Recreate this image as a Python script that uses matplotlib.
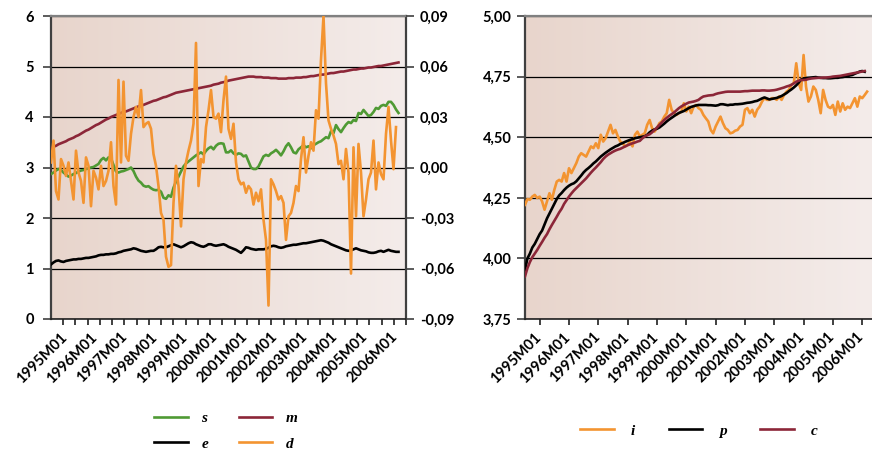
import numpy as np
import matplotlib
matplotlib.use("Agg")
import matplotlib.pyplot as plt
from matplotlib.colors import LinearSegmentedColormap
from matplotlib.ticker import FixedLocator
import matplotlib.transforms as mtransforms

# ---------------- data ----------------
year_labels = ["1995M01", "1996M01", "1997M01", "1998M01", "1999M01", "2000M01",
               "2001M01", "2002M01", "2003M01", "2004M01", "2005M01", "2006M01"]

s_vals = [2.87, 2.90, 2.94, 2.97, 2.95, 2.90, 2.86, 2.82, 2.84, 2.87, 2.89, 2.92, 2.94, 2.95, 2.97,
          2.98, 3.00, 3.01, 3.04, 3.07, 3.15, 3.19, 3.14, 3.20, 3.18, 3.05, 2.92, 2.90, 2.92, 2.93,
          2.95, 2.97, 3.00, 2.93, 2.82, 2.74, 2.70, 2.64, 2.62, 2.63, 2.59, 2.56, 2.55, 2.56, 2.52,
          2.40, 2.38, 2.45, 2.42, 2.60, 2.72, 2.82, 2.92, 3.02, 3.08, 3.12, 3.16, 3.20, 3.24, 3.27,
          3.30, 3.26, 3.33, 3.38, 3.41, 3.36, 3.43, 3.47, 3.48, 3.47, 3.30, 3.30, 3.34, 3.28, 3.25,
          3.28, 3.27, 3.22, 3.24, 3.12, 3.00, 2.97, 2.97, 3.02, 3.12, 3.22, 3.25, 3.23, 3.28, 3.31,
          3.35, 3.30, 3.24, 3.32, 3.42, 3.48, 3.40, 3.30, 3.28, 3.36, 3.40, 3.44, 3.40, 3.42, 3.38,
          3.44, 3.47, 3.50, 3.52, 3.56, 3.60, 3.58, 3.72, 3.68, 3.84, 3.76, 3.70, 3.78, 3.85, 3.90,
          3.88, 3.94, 3.92, 4.08, 4.06, 4.14, 4.08, 4.02, 4.04, 4.10, 4.18, 4.16, 4.22, 4.24, 4.22,
          4.30, 4.30, 4.24, 4.15, 4.08]

m_vals = [3.38, 3.41, 3.43, 3.46, 3.48, 3.50, 3.52, 3.55, 3.57, 3.59, 3.62, 3.64,
          3.67, 3.70, 3.73, 3.75, 3.78, 3.81, 3.84, 3.86, 3.89, 3.92, 3.95, 3.97, 4.00,
          4.02, 4.04, 4.06, 4.08, 4.10, 4.11, 4.13, 4.15, 4.17, 4.19, 4.21, 4.22, 4.24,
          4.26, 4.28, 4.30, 4.32, 4.33, 4.35, 4.37, 4.39, 4.40, 4.42, 4.44, 4.46, 4.48,
          4.49, 4.50, 4.51, 4.52, 4.53, 4.54, 4.55, 4.56, 4.57,
          4.58, 4.59, 4.60, 4.61, 4.62, 4.64, 4.65,
          4.66, 4.68, 4.69, 4.70, 4.72, 4.73,
          4.74, 4.75, 4.76, 4.77, 4.78, 4.79, 4.80,
          4.80, 4.80, 4.79, 4.79, 4.79, 4.78, 4.78,
          4.78, 4.77, 4.77, 4.77, 4.76, 4.76, 4.76, 4.76,
          4.77, 4.77, 4.77, 4.78, 4.78, 4.78, 4.79, 4.79, 4.80, 4.81, 4.81, 4.82, 4.83,
          4.84, 4.84, 4.85, 4.86, 4.87, 4.87, 4.88, 4.89, 4.90, 4.90, 4.91, 4.92, 4.93,
          4.94, 4.94, 4.95, 4.96, 4.96, 4.97, 4.98, 4.98, 4.99, 5.00, 5.01, 5.01, 5.02, 5.03,
          5.04, 5.05, 5.06, 5.07, 5.08]

e_vals = [1.08, 1.12, 1.15, 1.16, 1.14, 1.13, 1.15, 1.16, 1.17, 1.18,
          1.18, 1.19, 1.19, 1.20, 1.21, 1.21, 1.22, 1.23, 1.24, 1.26,
          1.27, 1.27, 1.28, 1.28, 1.29, 1.29, 1.30, 1.32, 1.33, 1.35,
          1.36, 1.37, 1.38, 1.40, 1.39, 1.37, 1.35, 1.34, 1.33, 1.34,
          1.35, 1.35, 1.38, 1.42, 1.43, 1.42, 1.42, 1.44, 1.46, 1.48,
          1.46, 1.44, 1.42, 1.44, 1.47, 1.50, 1.52, 1.51, 1.48, 1.46,
          1.44, 1.43, 1.45, 1.48, 1.48, 1.46, 1.45, 1.46, 1.47, 1.48,
          1.46, 1.43, 1.41, 1.39, 1.37, 1.34, 1.31, 1.36, 1.42, 1.41,
          1.39, 1.38, 1.37, 1.38, 1.38, 1.38, 1.39, 1.41, 1.44, 1.45,
          1.44, 1.42, 1.41, 1.42, 1.44, 1.45, 1.46, 1.47, 1.47, 1.48,
          1.49, 1.50, 1.50, 1.51, 1.52, 1.53, 1.54, 1.55, 1.56, 1.55,
          1.53, 1.51, 1.48, 1.46, 1.44, 1.42, 1.40, 1.38, 1.36, 1.35,
          1.36, 1.38, 1.40, 1.38, 1.36, 1.35, 1.34, 1.32, 1.31, 1.31,
          1.32, 1.34, 1.35, 1.33, 1.35, 1.37, 1.35, 1.34, 1.33, 1.33]

d_vals = [0.003, 0.016, -0.014, -0.019, 0.005, 0.001, -0.005, 0.003, -0.008, -0.019,
          0.010, -0.003, -0.008, -0.021, 0.006, 0.001, -0.023, -0.002, -0.006, -0.013,
          0.001, -0.011, -0.008, -0.002, 0.015, -0.011, -0.022, 0.052, 0.003, 0.051,
          0.007, 0.004, 0.020, 0.030, 0.036, 0.030, 0.046, 0.024, 0.026, 0.027,
          0.023, 0.008, 0.001, -0.011, -0.027, -0.031, -0.053, -0.059, -0.058, -0.021,
          0.001, -0.011, -0.035, -0.007, 0.003, 0.010, 0.016, 0.026, 0.074, -0.011,
          0.005, 0.003, 0.024, 0.034, 0.046, 0.030, 0.029, 0.032, 0.021, 0.040,
          0.054, 0.023, 0.017, 0.026, 0.003, -0.007, -0.010, -0.009, -0.015, -0.011,
          -0.013, -0.022, -0.015, -0.020, -0.013, -0.031, -0.043, -0.082, -0.007, -0.010,
          -0.014, -0.019, -0.017, -0.021, -0.043, -0.029, -0.027, -0.021, -0.011, -0.014,
          0.005, 0.018, -0.003, 0.007, 0.015, 0.010, 0.034, 0.029, 0.064, 0.090,
          0.050, 0.028, 0.023, 0.019, 0.014, 0.002, 0.004, -0.007, 0.011, -0.003,
          -0.063, 0.012, -0.029, 0.014, -0.003, -0.029, -0.019, -0.007, -0.003, 0.016,
          -0.013, 0.003, -0.004, -0.007, 0.020, 0.036, 0.016, -0.001, 0.024]

i_vals = [4.221, 4.245, 4.242, 4.255, 4.262, 4.249, 4.255, 4.235, 4.201, 4.235,
          4.269, 4.242, 4.283, 4.317, 4.324, 4.317, 4.352, 4.317, 4.372, 4.352,
          4.372, 4.393, 4.420, 4.434, 4.427, 4.420, 4.441, 4.462, 4.455, 4.475,
          4.455, 4.510, 4.482, 4.496, 4.523, 4.551, 4.516, 4.530, 4.503, 4.482,
          4.475, 4.462, 4.468, 4.482, 4.462, 4.510, 4.523, 4.503, 4.510, 4.516,
          4.551, 4.571, 4.537, 4.523, 4.537, 4.558, 4.565, 4.585, 4.599, 4.654,
          4.613, 4.599, 4.592, 4.599, 4.606, 4.640, 4.606, 4.626, 4.599, 4.626,
          4.633, 4.620, 4.613, 4.592, 4.578, 4.565, 4.530, 4.516, 4.544, 4.565,
          4.585, 4.558, 4.537, 4.530, 4.516, 4.519, 4.527, 4.530, 4.544, 4.551,
          4.613, 4.620, 4.599, 4.613, 4.585, 4.613, 4.626, 4.647, 4.661, 4.654,
          4.654, 4.661, 4.661, 4.654, 4.668, 4.654, 4.674, 4.688, 4.695, 4.716,
          4.723, 4.805, 4.723, 4.695, 4.839, 4.709, 4.647, 4.668, 4.709, 4.695,
          4.654, 4.599, 4.695, 4.654, 4.626, 4.620, 4.633, 4.592, 4.647, 4.606,
          4.640, 4.613, 4.626, 4.620, 4.640, 4.661, 4.626, 4.668, 4.661, 4.674,
          4.688]

p_vals = [3.953, 4.000, 4.020, 4.045, 4.060, 4.080, 4.100, 4.115, 4.140, 4.165,
          4.185, 4.205, 4.225, 4.245, 4.260, 4.270, 4.282, 4.292, 4.300, 4.306,
          4.310, 4.318, 4.330, 4.342, 4.355, 4.365, 4.373, 4.382, 4.392, 4.400,
          4.410, 4.420, 4.428, 4.436, 4.443, 4.450, 4.456, 4.462, 4.466, 4.472,
          4.476, 4.481, 4.485, 4.489, 4.492, 4.496, 4.498, 4.500, 4.502, 4.504,
          4.510, 4.520, 4.527, 4.532, 4.535, 4.540, 4.548, 4.556, 4.565, 4.573,
          4.580, 4.587, 4.594, 4.600, 4.604, 4.608, 4.614, 4.620, 4.625, 4.628,
          4.631, 4.633, 4.633, 4.633, 4.633, 4.632, 4.632, 4.631, 4.630, 4.632,
          4.636, 4.636, 4.634, 4.632, 4.634, 4.634, 4.636, 4.636, 4.637, 4.638,
          4.640, 4.642, 4.643, 4.645, 4.648, 4.650, 4.655, 4.660, 4.664, 4.660,
          4.656, 4.658, 4.660, 4.662, 4.666, 4.670, 4.676, 4.682, 4.690, 4.697,
          4.705, 4.714, 4.725, 4.738, 4.742, 4.744, 4.745, 4.746, 4.747, 4.748,
          4.746, 4.745, 4.744, 4.744, 4.743, 4.743, 4.744, 4.745, 4.745, 4.747,
          4.748, 4.750, 4.752, 4.755, 4.757, 4.762, 4.766, 4.771, 4.773, 4.770]

c_vals = [3.926, 3.960, 3.985, 4.005, 4.020, 4.035, 4.052, 4.068, 4.085, 4.100,
          4.120, 4.138, 4.155, 4.172, 4.190, 4.205, 4.225, 4.240, 4.255, 4.268,
          4.280, 4.290, 4.300, 4.310, 4.320, 4.330, 4.342, 4.354, 4.365, 4.375,
          4.386, 4.397, 4.410, 4.420, 4.428, 4.434, 4.440, 4.445, 4.449, 4.452,
          4.457, 4.462, 4.467, 4.471, 4.475, 4.478, 4.482, 4.485, 4.495, 4.503,
          4.508, 4.512, 4.520, 4.530, 4.540, 4.551, 4.561, 4.571, 4.580, 4.588,
          4.595, 4.602, 4.611, 4.620, 4.627, 4.633, 4.638, 4.643, 4.645, 4.647,
          4.650, 4.654, 4.662, 4.668, 4.670, 4.672, 4.673, 4.674, 4.678, 4.681,
          4.683, 4.685, 4.687, 4.688, 4.688, 4.688, 4.688, 4.688, 4.688, 4.689,
          4.690, 4.690, 4.691, 4.692, 4.692, 4.692, 4.692, 4.693, 4.693, 4.692,
          4.692, 4.693, 4.694, 4.696, 4.699, 4.702, 4.705, 4.709, 4.712, 4.716,
          4.722, 4.729, 4.733, 4.736, 4.736, 4.737, 4.740, 4.742, 4.743, 4.744,
          4.745, 4.745, 4.746, 4.746, 4.747, 4.748, 4.750, 4.751, 4.752, 4.753,
          4.755, 4.757, 4.759, 4.761, 4.763, 4.765, 4.767, 4.769, 4.771, 4.773]

# ---------------- style ----------------
GREEN = "#4f9a34"
DARKRED = "#8c2638"
ORANGE = "#f39431"
BLACK = "#000000"
TICKFONT = dict(family=["Lato", "DejaVu Sans"], weight="bold", size=10.5)
XFONT = dict(family=["Lato", "DejaVu Sans"], weight="bold", size=10.5)
LEGFONT = dict(family=["Liberation Serif", "DejaVu Serif"], style="italic", weight="bold", size=11)
LW = 1.9
NMONTHS = 142

fig = plt.figure(figsize=(8.72, 4.5), dpi=100)
W, H = 872.0, 450.0


def make_axes(x0, x1, y0, y1):
    return fig.add_axes([x0 / W, 1 - y1 / H, (x1 - x0) / W, (y1 - y0) / H])


bg_cmap = LinearSegmentedColormap.from_list("bg", ["#e8d5cc", "#f4ecea"])
grad = np.linspace(0, 1, 256).reshape(1, -1)


def style_axes(ax, xticks_minor, right_spine=True):
    ax.imshow(grad, extent=(0, 1, 0, 1), transform=ax.transAxes, cmap=bg_cmap,
              aspect="auto", zorder=0, interpolation="bicubic")
    ax.set_xlim(0, NMONTHS)
    ax.spines["top"].set_color("#808080")
    ax.spines["top"].set_linewidth(1.6)
    ax.spines["left"].set_color("#404040")
    ax.spines["left"].set_linewidth(1.6)
    ax.spines["right"].set_color("#404040")
    ax.spines["right"].set_linewidth(1.6)
    ax.spines["right"].set_visible(right_spine)
    ax.spines["bottom"].set_color("#202020")
    ax.spines["bottom"].set_linewidth(1.2)
    ax.xaxis.set_major_locator(FixedLocator([12 * k for k in range(len(year_labels))]))
    ax.set_xticklabels([])
    ax.xaxis.set_minor_locator(FixedLocator(xticks_minor))
    ax.tick_params(axis="x", which="major", length=0)
    ax.tick_params(axis="x", which="minor", length=4.5, width=1.2, color="#202020", direction="out")
    ax.tick_params(axis="y", which="major", length=6, width=1.2, color="#404040", direction="out")
    ax.grid(axis="y", color="black", linewidth=0.9, zorder=1)
    ax.set_axisbelow(True)
    # rotated year labels
    for k, lab in enumerate(year_labels):
        off = mtransforms.ScaledTranslation(9 / 100, -11 / 100, fig.dpi_scale_trans)
        ax.text(12 * k, 0, lab, transform=ax.get_xaxis_transform() + off,
                rotation=45, ha="right", va="top", rotation_mode="anchor", **XFONT)


# ---------------- left chart ----------------
ax1 = make_axes(51, 406, 16, 319)
style_axes(ax1, np.linspace(0, NMONTHS, 30))
ax1.set_ylim(0, 6)
ax1.set_yticks(range(0, 7))
ax1.set_yticklabels([str(v) for v in range(0, 7)], **TICKFONT)
ax1.tick_params(axis="y", pad=6.5)
l_s, = ax1.plot(np.arange(len(s_vals)), s_vals, color=GREEN, lw=LW, zorder=3, label="s")
l_m, = ax1.plot(np.arange(len(m_vals)), m_vals, color=DARKRED, lw=LW, zorder=3, label="m")
l_e, = ax1.plot(np.arange(len(e_vals)), e_vals, color=BLACK, lw=LW, zorder=3, label="e")

ax1b = ax1.twinx()
ax1b.patch.set_visible(False)
ax1b.set_ylim(-0.09, 0.09)
rt = [-0.09, -0.06, -0.03, 0.0, 0.03, 0.06, 0.09]
ax1b.set_yticks(rt)
ax1b.set_yticklabels([f"{v:.2f}".replace(".", ",").replace("-0,00", "0,00") for v in rt], **TICKFONT)
ax1b.tick_params(axis="y", length=5.5, width=1.2, color="#404040", pad=4.5)
for sp in ax1b.spines.values():
    sp.set_visible(False)
l_d, = ax1b.plot(np.arange(len(d_vals)), d_vals, color=ORANGE, lw=LW, zorder=4, label="d")

fig.legend([l_s, l_e, l_m, l_d], ["s", "e", "m", "d"], ncol=2,
           loc="center", bbox_to_anchor=(226 / W, 1 - 431 / H), frameon=False,
           handlelength=2.2, handletextpad=0.9, columnspacing=2.0,
           labelspacing=0.8, prop=LEGFONT)

# ---------------- right chart ----------------
ax2 = make_axes(525, 872, 16, 319)
style_axes(ax2, np.arange(0, 139, 6), right_spine=False)
ax2.set_ylim(3.75, 5.0)
yt = [3.75, 4.0, 4.25, 4.5, 4.75, 5.0]
ax2.set_yticks(yt)
ax2.set_yticklabels([f"{v:.2f}".replace(".", ",") for v in yt], **TICKFONT)
ax2.tick_params(axis="y", pad=3.6)
l_i, = ax2.plot(np.arange(len(i_vals)), i_vals, color=ORANGE, lw=LW, zorder=3, label="i")
l_p, = ax2.plot(np.arange(len(p_vals)), p_vals, color=BLACK, lw=LW, zorder=3, label="p")
l_c, = ax2.plot(np.arange(len(c_vals)), c_vals, color=DARKRED, lw=LW, zorder=3, label="c")

fig.legend([l_i, l_p, l_c], ["i", "p", "c"], ncol=3,
           loc="center", bbox_to_anchor=(699 / W, 1 - 431 / H), frameon=False,
           handlelength=2.2, handletextpad=1.1, columnspacing=2.2, prop=LEGFONT)

fig.savefig("out.png", dpi=100)
